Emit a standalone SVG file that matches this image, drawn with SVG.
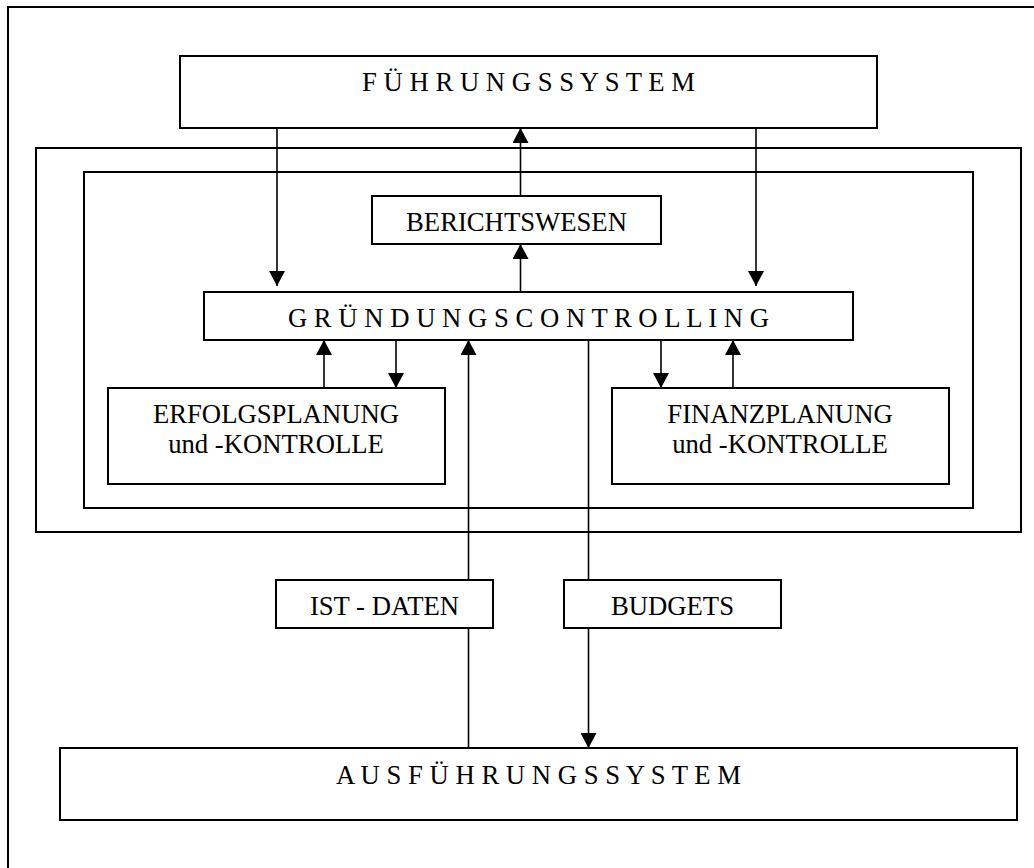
<svg xmlns="http://www.w3.org/2000/svg" width="1034" height="868" viewBox="0 0 1034 868">
<style>
.box{fill:#fff;stroke:#000;stroke-width:2}
.frame{fill:none;stroke:#000;stroke-width:2}
.t{font-family:"Liberation Serif","Times New Roman",serif;font-size:26.7px;fill:#000;text-anchor:middle}
.c{stroke:#000;stroke-width:1.6;fill:none}
.a{marker-end:url(#ah)}
</style>
<defs>
<marker id="ah" viewBox="0 0 15 16" refX="15" refY="8" markerWidth="15" markerHeight="16" markerUnits="userSpaceOnUse" orient="auto">
<path d="M0,0 L15,8 L0,16 z" fill="#000"/>
</marker>
</defs>
<rect width="1034" height="868" fill="#fff"/>
<rect class="frame" x="8" y="7" width="1040" height="880"/>
<g id="controlling-outer"><rect class="frame" x="36" y="148" width="985" height="384"/></g>
<g id="controlling-inner"><rect class="frame" x="84" y="172" width="889" height="336"/></g>
<g id="connectors">
<line class="c a" x1="277" y1="128" x2="277" y2="286"/>
<line class="c a" x1="756" y1="128" x2="756" y2="286"/>
<line class="c a" x1="520.5" y1="196" x2="520.5" y2="128"/>
<line class="c a" x1="520.5" y1="292" x2="520.5" y2="244"/>
<line class="c a" x1="324" y1="388" x2="324" y2="340"/>
<line class="c a" x1="396" y1="340" x2="396" y2="388"/>
<line class="c a" x1="661" y1="340" x2="661" y2="388"/>
<line class="c a" x1="733" y1="388" x2="733" y2="340"/>
<line class="c a" x1="468.5" y1="748" x2="468.5" y2="340"/>
<line class="c a" x1="588.5" y1="340" x2="588.5" y2="748"/>
</g>
<g id="fuehrungssystem"><rect class="box" x="180" y="56" width="697" height="72"/><text class="t" x="528.5" y="91">F Ü H R U N G S S Y S T E M</text></g>
<g id="berichtswesen"><rect class="box" x="372" y="196" width="289" height="48"/><text class="t" x="516.5" y="231">BERICHTSWESEN</text></g>
<g id="gruendungscontrolling"><rect class="box" x="204" y="292" width="649" height="48"/><text class="t" x="528.5" y="327">G R Ü N D U N G S C O N T R O L L I N G</text></g>
<g id="erfolgsplanung"><rect class="box" x="108" y="388" width="337" height="96"/><text class="t" x="276" y="423">ERFOLGSPLANUNG</text><text class="t" x="276" y="453">und -KONTROLLE</text></g>
<g id="finanzplanung"><rect class="box" x="612" y="388" width="337" height="96"/><text class="t" x="780" y="423">FINANZPLANUNG</text><text class="t" x="780" y="453">und -KONTROLLE</text></g>
<g id="ist-daten"><rect class="box" x="276" y="580" width="217" height="48"/><text class="t" x="384.5" y="615">IST - DATEN</text></g>
<g id="budgets"><rect class="box" x="564" y="580" width="217" height="48"/><text class="t" x="672.5" y="615">BUDGETS</text></g>
<g id="ausfuehrungssystem"><rect class="box" x="60" y="748" width="957" height="72"/><text class="t" x="538.5" y="784">A U S F Ü H R U N G S S Y S T E M</text></g>
</svg>
